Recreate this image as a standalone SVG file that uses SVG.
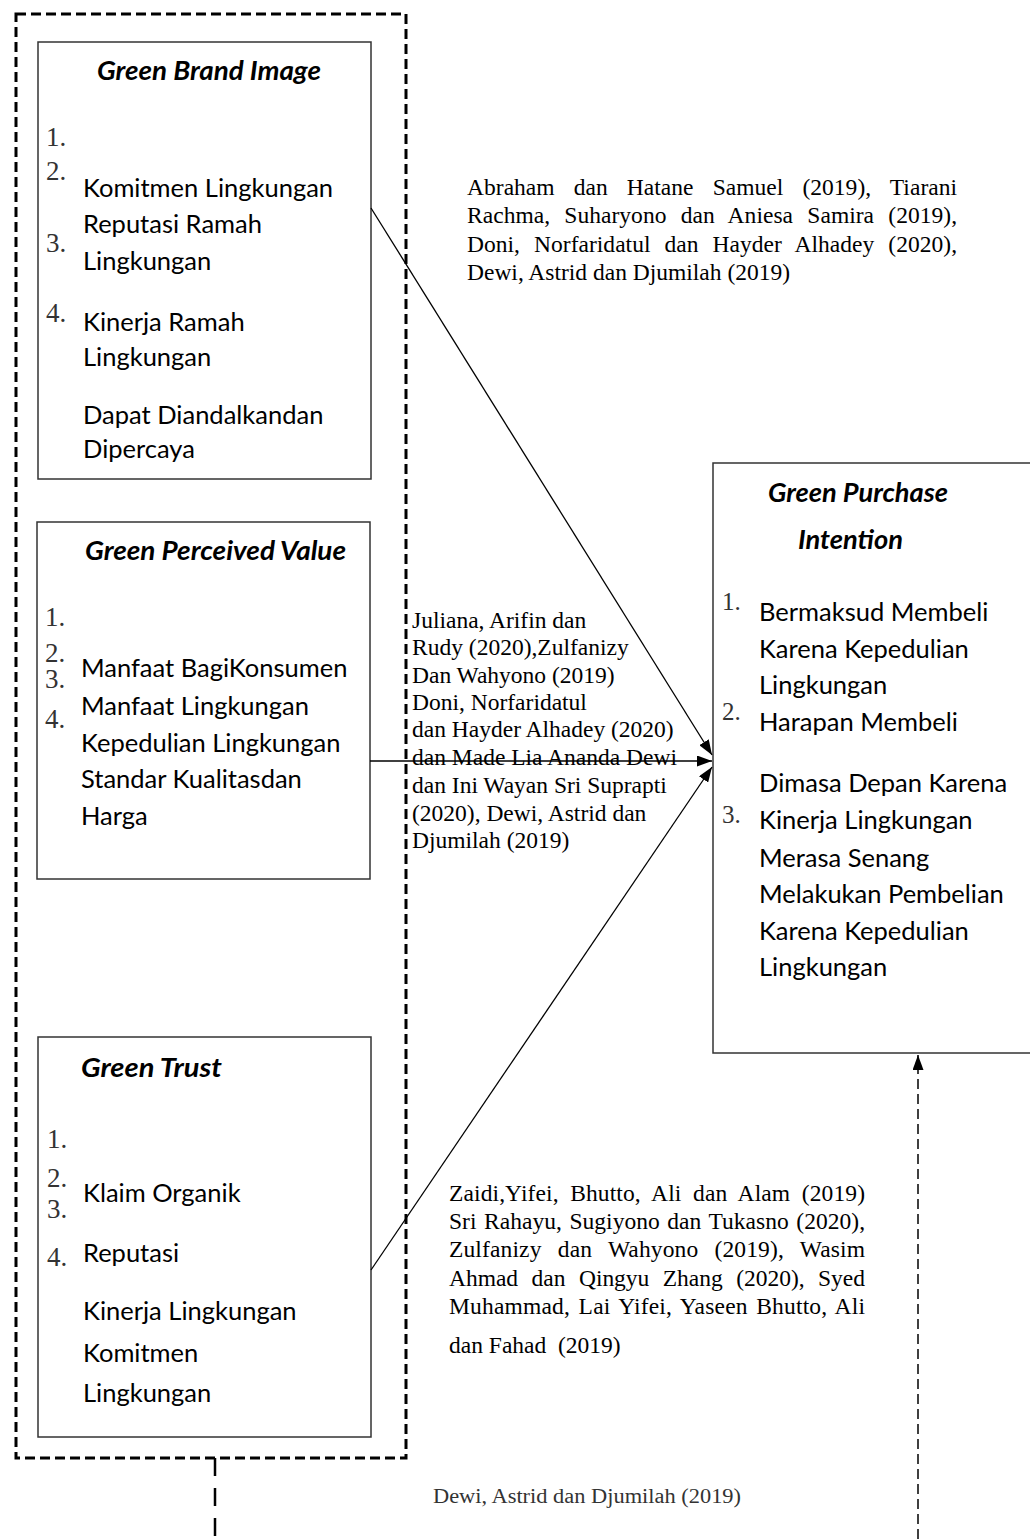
<svg xmlns="http://www.w3.org/2000/svg" width="1030" height="1539" viewBox="0 0 1030 1539">
<style>
.box{fill:#fff;stroke:#333;stroke-width:1.5}
.t{font-family:Lato,"Liberation Sans",sans-serif;font-size:25.5px;fill:#000}
.h{font-family:Lato,"Liberation Sans",sans-serif;font-size:26.5px;font-weight:bold;font-style:italic;fill:#000}
.n{font-family:"Liberation Serif","Times New Roman",serif;font-size:27px;fill:#333}
.n2{font-family:"Liberation Serif","Times New Roman",serif;font-size:25px;fill:#333}
.c{font-family:"Liberation Serif","Times New Roman",serif;font-size:23.5px;fill:#000}
.c2{font-family:"Liberation Serif","Times New Roman",serif;font-size:20px;fill:#333}
.ln{stroke:#000;stroke-width:1.3;fill:none}
</style>
<defs>
<marker id="arr" viewBox="0 0 15 11" refX="15" refY="5.5" markerWidth="15" markerHeight="11" markerUnits="userSpaceOnUse" orient="auto">
<path d="M0,0 L15,5.5 L0,11 z" fill="#000"/>
</marker>
</defs>
<rect width="1030" height="1539" fill="#fff"/>

<g id="group-frame">
<rect x="16" y="14" width="390" height="1444" fill="none" stroke="#000" stroke-width="3" stroke-dasharray="10 5"/>
</g>

<g id="node-green-brand-image">
<rect class="box" x="38" y="42" width="333" height="437"/>
<text class="h" x="97" y="80" textLength="224" lengthAdjust="spacingAndGlyphs">Green Brand Image</text>
<text class="n" x="46" y="146">1.</text>
<text class="n" x="46" y="180">2.</text>
<text class="n" x="46" y="252">3.</text>
<text class="n" x="46" y="322">4.</text>
<text class="t" x="83" y="197">Komitmen Lingkungan</text>
<text class="t" x="83" y="233">Reputasi Ramah</text>
<text class="t" x="83" y="270">Lingkungan</text>
<text class="t" x="83" y="331">Kinerja Ramah</text>
<text class="t" x="83" y="366">Lingkungan</text>
<text class="t" x="83" y="424">Dapat Diandalkandan</text>
<text class="t" x="83" y="458">Dipercaya</text>
</g>

<g id="node-green-perceived-value">
<rect class="box" x="37" y="522" width="333" height="357"/>
<text class="h" x="85" y="560" textLength="261" lengthAdjust="spacingAndGlyphs">Green Perceived Value</text>
<text class="n" x="45" y="626">1.</text>
<text class="n" x="45" y="662">2.</text>
<text class="n" x="45" y="688">3.</text>
<text class="n" x="45" y="728">4.</text>
<text class="t" x="81" y="677">Manfaat BagiKonsumen</text>
<text class="t" x="81" y="715">Manfaat Lingkungan</text>
<text class="t" x="81" y="752">Kepedulian Lingkungan</text>
<text class="t" x="81" y="788">Standar Kualitasdan</text>
<text class="t" x="81" y="825">Harga</text>
</g>

<g id="node-green-trust">
<rect class="box" x="38" y="1037" width="333" height="400"/>
<text class="h" x="81" y="1077" textLength="141" lengthAdjust="spacingAndGlyphs">Green Trust</text>
<text class="n" x="47" y="1148">1.</text>
<text class="n" x="47" y="1187">2.</text>
<text class="n" x="47" y="1218">3.</text>
<text class="n" x="47" y="1266">4.</text>
<text class="t" x="83" y="1202">Klaim Organik</text>
<text class="t" x="83" y="1262">Reputasi</text>
<text class="t" x="83" y="1320">Kinerja Lingkungan</text>
<text class="t" x="83" y="1362">Komitmen</text>
<text class="t" x="83" y="1402">Lingkungan</text>
</g>

<g id="node-green-purchase-intention">
<rect class="box" x="713" y="463" width="330" height="590"/>
<text class="h" x="768" y="502" textLength="180" lengthAdjust="spacingAndGlyphs">Green Purchase</text>
<text class="h" x="798" y="549" textLength="105" lengthAdjust="spacingAndGlyphs">Intention</text>
<text class="n2" x="722" y="610">1.</text>
<text class="n2" x="722" y="720">2.</text>
<text class="n2" x="722" y="823">3.</text>
<text class="t" x="759" y="621">Bermaksud Membeli</text>
<text class="t" x="759" y="658">Karena Kepedulian</text>
<text class="t" x="759" y="694">Lingkungan</text>
<text class="t" x="759" y="731">Harapan Membeli</text>
<text class="t" x="759" y="792">Dimasa Depan Karena</text>
<text class="t" x="759" y="829">Kinerja Lingkungan</text>
<text class="t" x="759" y="867">Merasa Senang</text>
<text class="t" x="759" y="903">Melakukan Pembelian</text>
<text class="t" x="759" y="940">Karena Kepedulian</text>
<text class="t" x="759" y="976">Lingkungan</text>
</g>

<g id="connectors">
<line class="ln" x1="371" y1="208" x2="712" y2="755" marker-end="url(#arr)"/>
<line class="ln" x1="370" y1="761" x2="712" y2="761" marker-end="url(#arr)"/>
<line class="ln" x1="371" y1="1270" x2="712" y2="767" marker-end="url(#arr)"/>
<line x1="918" y1="1539" x2="918" y2="1055" stroke="#000" stroke-width="1.5" stroke-dasharray="10 5" marker-end="url(#arr)"/>
<line x1="215" y1="1458" x2="215" y2="1539" stroke="#000" stroke-width="2.5" stroke-dasharray="18 12"/>
</g>

<g id="label-citations-1">
<text class="c" x="467" y="195" word-spacing="13.2" textLength="490" lengthAdjust="spacing">Abraham dan Hatane Samuel (2019), Tiarani</text>
<text class="c" x="467" y="223" word-spacing="8.3" textLength="490" lengthAdjust="spacing">Rachma, Suharyono dan Aniesa Samira (2019),</text>
<text class="c" x="467" y="252" word-spacing="8.1" textLength="490" lengthAdjust="spacing">Doni, Norfaridatul dan Hayder Alhadey (2020),</text>
<text class="c" x="467" y="280">Dewi, Astrid dan Djumilah (2019)</text>
</g>

<g id="label-citations-2">
<text class="c" x="412" y="628">Juliana, Arifin dan</text>
<text class="c" x="412" y="655">Rudy (2020),Zulfanizy</text>
<text class="c" x="412" y="683">Dan Wahyono (2019)</text>
<text class="c" x="412" y="710">Doni, Norfaridatul</text>
<text class="c" x="412" y="737">dan Hayder Alhadey (2020)</text>
<text class="c" x="412" y="765">dan Made Lia Ananda Dewi</text>
<text class="c" x="412" y="793">dan Ini Wayan Sri Suprapti</text>
<text class="c" x="412" y="821">(2020), Dewi, Astrid dan</text>
<text class="c" x="412" y="848">Djumilah (2019)</text>
</g>

<g id="label-citations-3">
<text class="c" x="449" y="1201" word-spacing="5.6" textLength="416" lengthAdjust="spacing">Zaidi,Yifei, Bhutto, Ali dan Alam (2019)</text>
<text class="c" x="449" y="1229" word-spacing="1.6" textLength="416" lengthAdjust="spacing">Sri Rahayu, Sugiyono dan Tukasno (2020),</text>
<text class="c" x="449" y="1257" word-spacing="10.2" textLength="416" lengthAdjust="spacing">Zulfanizy dan Wahyono (2019), Wasim</text>
<text class="c" x="449" y="1286" word-spacing="7.6" textLength="416" lengthAdjust="spacing">Ahmad dan Qingyu Zhang (2020), Syed</text>
<text class="c" x="449" y="1314" word-spacing="2.5" textLength="416" lengthAdjust="spacing">Muhammad, Lai Yifei, Yaseen Bhutto, Ali</text>
<text class="c" x="449" y="1353">dan Fahad &#160;(2019)</text>
</g>

<g id="label-citation-4">
<text class="c2" x="433" y="1503" textLength="308" lengthAdjust="spacingAndGlyphs">Dewi, Astrid dan Djumilah (2019)</text>
</g>
</svg>
